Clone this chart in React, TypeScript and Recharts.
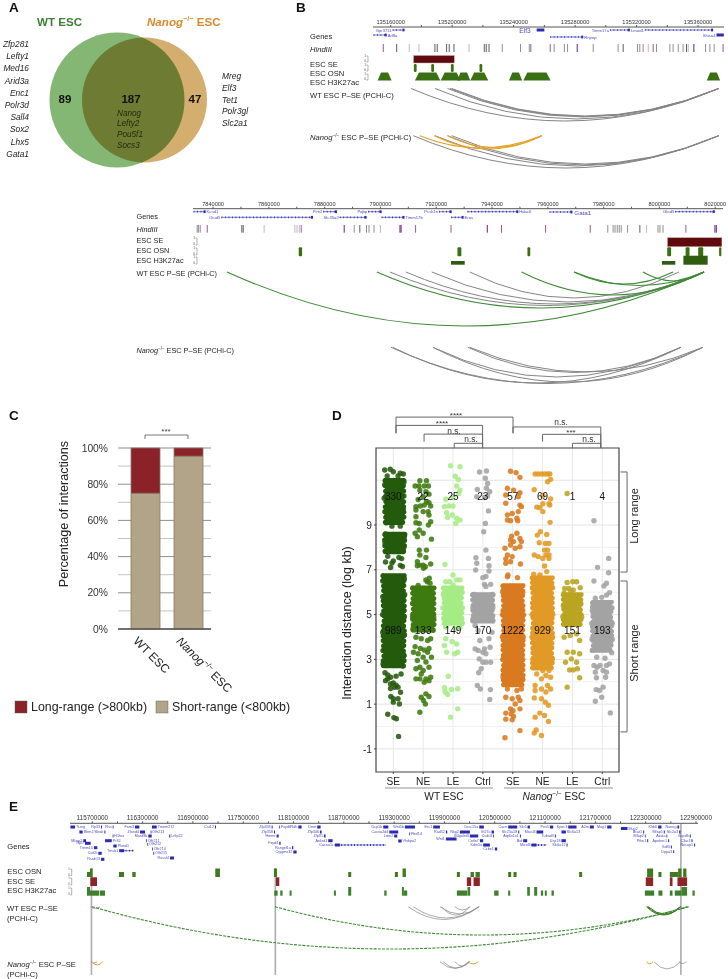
import React from "react";
import {
  Bar,
  BarChart,
  CartesianGrid,
  ReferenceArea,
  ReferenceLine,
  Scatter,
  ScatterChart,
  XAxis,
  YAxis,
} from "recharts";

const FONT = "'Liberation Sans', Arial, sans-serif";
const BLUE = "#2a2ab4";
const GREY_ARC = "#858585";
const GREEN_ARC = "#3f8a35";
const ORANGE_ARC = "#e6a128";

// ---- panel A
const vennCircles = [
  { name: "Nanog", cx: 144.5, cy: 100, r: 62.5, fill: "#d3ae6e" },
  { name: "WT", cx: 117, cy: 100, r: 67.5, fill: "#84b674" },
];
const vennCounts = [
  { x: 65, y: 99, text: "89" },
  { x: 131, y: 99, text: "187" },
  { x: 195, y: 99, text: "47" },
];
const wtOnlyGenes = ["Zfp281", "Lefty1", "Med16", "Arid3a", "Enc1", "Polr3d", "Sall4", "Sox2", "Lhx5", "Gata1"];
const nanogOnlyGenes = ["Mreg", "Elf3", "Tet1", "Polr3gl", "Slc2a1"];
const sharedGenes = ["Nanog", "Lefty2", "Pou5f1", "Socs3"];

// ---- panel B, Elf3 locus (kb)
const elfHind = [
  [135155.2, "p"], [135163.9, "d"], [135172.1, "l"], [135178.4, "l"], [135188.8, "d"], [135190.3, "d"], [135196.4, "d"],
  [135198.1, "d"], [135201.2, "d"], [135211, "l"], [135220.9, "d"], [135222.2, "d"], [135224, "d"], [135232.6, "g"],
  [135244.5, "g"], [135250.2, "g"], [135251.2, "p"], [135263.8, "p"], [135266.4, "g"], [135273, "g"], [135275.1, "g"],
  [135281.4, "P"], [135291.8, "g"], [135308, "g"], [135311.3, "d"], [135320.6, "g"], [135322.1, "g"], [135324.3, "g"],
  [135327.6, "l"], [135330.8, "p"], [135333, "g"], [135341.7, "g"], [135343.8, "g"], [135347.1, "g"], [135350.3, "g"],
  [135352.5, "d"], [135353.6, "l"], [135357.3, "P"], [135364.9, "g"], [135367.7, "g"], [135370.5, "g"], [135376.3, "p"],
];
const elfSE = [[135174.9, 135201.4]];
const elfOSN = [[135175.1, 135176.9], [135186.4, 135188.2], [135199.2, 135201], [135217.8, 135219.6]];
const elfK27 = [
  [135151.5, 135160.6], [135175.8, 135192.3], [135192.5, 135205.5], [135203.3, 135211.8], [135211.8, 135223.5],
  [135237, 135245.6], [135246.3, 135264], [135365.7, 135374.4],
];
const elfGenes = [
  { name: "Gpr3711", from: 135161.3, to: 135169, y: 30 },
  { name: "Arl8a", from: 135148.8, to: 135157.4, y: 35, right: true },
  { name: "Elf3", from: 135255, to: 135260, y: 30, size: 6.6, gap: 6 },
  { name: "Rnpep", from: 135263.8, to: 135285.3, y: 37, right: true },
  { name: "Timm17a", from: 135302.7, to: 135315.6, y: 30 },
  { name: "Lmod1", from: 135325.4, to: 135369.8, y: 30 },
  { name: "Shisa4", from: 135372, to: 135376.8, y: 35 },
];
const elfWtArcs = [
  [135173.2, 135373.5, 121], [135188.8, 135373.5, 119], [135197, 135373.5, 117], [135198.6, 135373.5, 116.5], [135199.7, 135373.5, 116],
];
const elfNanogArcs = [
  [135174.7, 135373.5, 168], [135188.8, 135373.5, 166], [135197, 135373.5, 165], [135199.7, 135373.5, 164],
];
const elfNanogOrangeArcs = [[135179, 135258.2, 148], [135188.4, 135258.2, 149], [135197, 135258.2, 147.5]];

// ---- panel B, Gata1 locus (kb)
const gataHind = [
  [7834.3, "g"], [7834.8, "g"], [7835.4, "g"], [7837.9, "p"], [7850.3, "d"], [7850.8, "d"], [7858.3, "l"], [7869.3, "l"], [7870.1, "l"],
  [7870.9, "l"], [7871.6, "p"], [7887, "P"], [7890.6, "g"], [7892.6, "d"], [7895, "g"], [7895.9, "g"], [7897.7, "g"], [7900, "l"],
  [7907, "P"], [7907.4, "P"], [7912.6, "p"], [7925.3, "p"], [7938.3, "P"], [7943.4, "p"], [7959.2, "p"], [7975.2, "p"], [7981.5, "g"],
  [7983.4, "g"], [7984.1, "g"], [7984.9, "g"], [7985.6, "g"], [7986.3, "g"], [7988.6, "g"], [7993, "d"], [7995.4, "l"], [7999.5, "g"],
  [8000.2, "g"], [8001.3, "g"], [8009.5, "p"], [8019.9, "P"], [8020.4, "P"],
];
const gataSE = [[8002.9, 8022.4]];
const gataOSN = [[7870.7, 7871.9], [7927.6, 7929], [7952.7, 7953.7], [8002.8, 8004.2], [8009.4, 8010.8], [8013.9, 8015.7], [8021.4, 8022.2]];
const gataK27 = [[7925.3, 7930.2], [8000.9, 8005.7], [8008.6, 8017.3, 1]];
const gataGenes = [
  { name: "Kcnd1", from: 7833, to: 7837.3, y: 211.7, right: true },
  { name: "Pim2", from: 7879.5, to: 7884.4, y: 211.7 },
  { name: "Pqbp", from: 7895.6, to: 7900.4, y: 211.7 },
  { name: "Pcsk1n", from: 7921, to: 7925.5, y: 211.7 },
  { name: "Hdac6", from: 7931.2, to: 7949.4, y: 211.7, right: true },
  { name: "Gata1", from: 7960.6, to: 7968.8, y: 212, right: true, size: 6.2, gap: 2 },
  { name: "Glod5", from: 8005.7, to: 8019.8, y: 211.7 },
  { name: "Otud5", from: 7843, to: 7875.8, y: 217.3 },
  { name: "Slc35a2", from: 7885.4, to: 7895, y: 217.3 },
  { name: "Timm17b", from: 7900.4, to: 7908.6, y: 217.3, right: true },
  { name: "Eras", from: 7925.4, to: 7929.8, y: 217.3, right: true },
];
const gataWtGreenArcs = [
  [7845, 8016, 326], [7898.7, 8016, 308], [7950.6, 8016, 295], [7969.4, 8004.9, 284], [7969.4, 8016, 285.5], [7994.1, 8016, 281],
];
const gataWtGreyArcs = [[7903.4, 8016, 305.5], [7909.1, 8016, 304], [7918.4, 8016, 302], [7932, 8007, 298]];
const gataNanogArcs = [
  [7903.8, 8015.6, 383.5], [7904.4, 8007.7, 383], [7918.8, 8015.6, 382], [7918.8, 8007.7, 377], [7931.3, 8007.7, 372.5], [7932, 8015.6, 372],
];

// ---- panel C
const cCategories = ["WT ESC", "Nanog ESC"];
const shortRange = [75, 95.5];
const longRange = [25, 4.5];
const cTicks = [0, 20, 40, 60, 80, 100];
const cMinorLines = [10, 30, 50, 70, 90];
const cLegend = [
  { label: "Long-range (>800kb)", color: "#8c2229", x: 15 },
  { label: "Short-range (<800kb)", color: "#b1a488", x: 156 },
];

// ---- panel D: points that can be told apart, as [jitter, log kb], per group.
// Where the dots merge into a solid column the group has a core band instead.
const wtSePoints = [
  [-0.31, 11.46], [-0.11, 11.49], [0, 11.38], [0.25, 11.31], [0.36, 11.28], [-0.22, 11.19], [0.17, 11.19], [-0.31, 10.8], [0.38, 10.9],
  [-0.33, 10.2], [0.38, 10.3], [-0.3, 9.6], [0.36, 9.7], [-0.25, 9.1], [0.3, 9.2], [-0.05, 8.95], [0.25, 8.95], [-0.28, 8.6], [0.4, 8.5],
  [-0.3, 8.2], [0.38, 8], [-0.2, 7.6], [0.3, 7.5], [-0.28, 7.35], [0, 7.4], [0.2, 7.55], [-0.1, 7.1], [0.25, 7.2], [0.33, 7.15], [-0.05, 7.3],
  [-0.38, 6.5], [0.4, 6.6], [-0.38, 5.8], [0.41, 5.9], [-0.39, 5], [0.4, 4.9], [-0.38, 4.2], [0.4, 4.1], [-0.37, 3.4], [0.38, 3.2],
  [-0.37, 2.8], [0.35, 2.7], [0.28, 2.35], [-0.2, 2.13], [0, 1.95], [0.17, 1.76], [0.26, 1.53], [-0.09, 1.34], [0, 1.24], [0.17, 1.24],
  [0.22, 1.01], [0, 1.09], [-0.2, 0.55], [0.02, 0.4], [0.11, 0.35], [0.19, -0.44], [-0.3, 2.4], [-0.2, 2.3], [-0.1, 2.2], [0.1, 2.25],
  [-0.28, 2.05], [-0.1, 1.9], [0.05, 1.75], [-0.1, 1.7], [0.1, 1.85],
];
const wtNePoints = [
  [-0.12, 10.98], [0.12, 10.98], [-0.29, 10.74], [-0.15, 10.74], [0.04, 10.74], [0.19, 10.74], [-0.12, 10.56], [0.1, 10.49], [0.21, 10.38],
  [0, 10.26], [-0.18, 10.14], [0.12, 10.04], [0.21, 10], [-0.26, 9.82], [-0.1, 9.85], [0.04, 9.89], [0.27, 9.85], [-0.26, 9.67], [0, 9.6],
  [0.18, 9.6], [-0.26, 9.37], [0.21, 9.45], [-0.26, 9.1], [-0.14, 9.07], [0.27, 9.15], [0.19, 9], [-0.14, 8.78], [-0.29, 8.63], [-0.21, 8.48],
  [0, 8.63], [0.3, 8.37], [-0.14, 7.88], [0.12, 7.88], [-0.12, 7.66], [0.1, 7.55], [-0.21, 7.36], [-0.21, 7.18], [-0.12, 7.21], [0, 7.21],
  [0.08, 7.14], [0.27, 7.26], [0.01, 7.07], [-0.18, 6.3], [0.15, 6.47], [0.1, 6.55], [0.22, 6.62], [0.25, 6.4], [-0.33, 6], [0.3, 6],
  [-0.38, 5.5], [0.38, 5.5], [-0.38, 4.9], [0.38, 4.9], [-0.36, 4.4], [0.36, 4.3], [-0.26, 3.99], [-0.07, 3.92], [0.16, 3.84], [0.27, 3.92],
  [-0.29, 3.57], [-0.1, 3.49], [0.04, 3.42], [0.21, 3.49], [-0.18, 3.25], [0.16, 3.32], [-0.35, 3.32], [0, 3.1], [0.3, 3.1], [-0.21, 2.95],
  [0.1, 2.88], [-0.12, 2.65], [-0.26, 2.58], [0, 2.5], [0.21, 2.65], [-0.07, 2.35], [-0.26, 2.13], [-0.12, 2.13], [0.1, 2.13], [0.27, 2.2],
  [0.04, 1.98], [0.21, 2.05], [0.1, 1.46], [-0.07, 1.31], [0.21, 1.34], [0.01, 1.16], [0.08, 1.01], [-0.12, 0.64],
];
const wtLePoints = [
  [-0.09, 11.65], [0.25, 11.6], [0.08, 11.18], [0.19, 11.03], [0.13, 10.74], [0.25, 10.56], [0.21, 10.41], [-0.26, 10.15], [0, 10.26],
  [-0.31, 9.82], [-0.15, 9.85], [0, 9.85], [-0.23, 9.55], [-0.03, 9.45], [-0.2, 9.34], [0.13, 9.3], [0.25, 9.22], [0.1, 9.07], [-0.29, 7.24],
  [0, 6.77], [-0.26, 6.47], [0.13, 6.55], [0.25, 6.55], [-0.12, 6.47], [0, 6.32], [-0.35, 5.9], [0.33, 6], [-0.37, 5.3], [0.34, 5.3],
  [-0.33, 4.8], [0.3, 4.7], [-0.26, 4.44], [0.13, 4.36], [0.25, 4.44], [-0.26, 3.92], [-0.03, 3.8], [-0.31, 3.62], [0.13, 3.69], [-0.23, 3.32],
  [0.06, 3.25], [0.17, 3.32], [-0.17, 2.25], [-0.31, 1.73], [-0.28, 1.54], [-0.06, 1.66], [0.17, 1.69], [-0.19, 1.43], [0.17, 0.79], [-0.09, 0.42],
];
const wtCtrlPoints = [
  [-0.12, 11.37], [0.13, 11.41], [0.09, 11.09], [0.17, 10.86], [-0.2, 10.59], [0.13, 10.64], [0.25, 10.49], [-0.22, 10.26], [0.06, 10.23],
  [0.17, 10.3], [0.2, 9.63], [0.09, 9.07], [0.03, 8.7], [-0.25, 7.54], [0.11, 7.88], [0.2, 7.51], [-0.22, 7.29], [0.22, 7.18], [-0.26, 6.99],
  [0.22, 6.95], [0, 6.65], [0.11, 6.7], [0.06, 6.35], [0.28, 6.35], [0.11, 6.25], [-0.3, 5.9], [0.33, 5.9], [-0.36, 5.3], [0.36, 5.3],
  [-0.36, 4.8], [0.33, 4.8], [-0.28, 4.51], [0.33, 4.21], [-0.17, 4.29], [0.22, 3.92], [-0.11, 3.84], [-0.28, 3.47], [-0.17, 3.4], [0.06, 3.47],
  [0.26, 3.54], [0, 3.32], [0.11, 3.25], [-0.13, 3.02], [0, 2.87], [0.11, 2.87], [0.28, 2.87], [-0.06, 2.58], [-0.15, 2.4], [-0.2, 1.83],
  [-0.09, 1.68], [0.27, 1.65], [0.25, 1.21],
];
const koSePoints = [
  [-0.08, 11.4], [0.12, 11.34], [0.26, 11.13], [-0.19, 10.64], [0.03, 10.56], [0.26, 10.44], [-0.25, 10.34], [0.2, 10.26], [-0.25, 9.97],
  [0.26, 9.89], [0.31, 9.82], [-0.19, 9.45], [-0.02, 9.52], [0.2, 9.6], [-0.19, 9.22], [0.15, 9.3], [-0.08, 9.19], [0.18, 9.19], [-0.04, 8.5],
  [0.15, 8.63], [-0.08, 8.33], [0.26, 8.4], [0.03, 8.26], [0.31, 8.26], [-0.28, 7.96], [-0.08, 8.11], [0.09, 7.96], [0.26, 8.03], [-0.19, 7.66],
  [-0.02, 7.59], [-0.25, 7.49], [-0.08, 7.36], [-0.25, 7.29], [0.28, 7.26], [-0.19, 6.69], [0.17, 6.65], [-0.17, 6.77], [-0.36, 6], [0.36, 6],
  [-0.37, 5], [0.39, 5], [-0.37, 4], [0.38, 4], [-0.36, 3], [0.36, 3], [-0.35, 2.2], [0.33, 2.2], [-0.19, 1.68], [0.15, 1.61], [0.31, 1.68],
  [-0.25, 1.31], [-0.02, 1.24], [0.2, 1.31], [0.26, 1.16], [0.09, 1.01], [-0.08, 0.79], [0.01, 0.71], [0.26, 0.79], [-0.25, 0.6], [-0.06, 0.57],
  [-0.25, 0.33], [0.03, 0.45], [-0.02, 0.3], [-0.28, -0.5], [0.26, -0.18],
];
const koNePoints = [
  [-0.27, 11.28], [-0.16, 11.28], [-0.04, 11.28], [0.07, 11.28], [0.18, 11.28], [0.26, 11.28], [0.29, 11.04], [0.18, 10.93], [-0.3, 10.58],
  [0.01, 10.32], [0.29, 10.17], [0.23, 9.95], [-0.21, 9.8], [0.01, 9.95], [-0.1, 9.77], [0.26, 9.89], [0.01, 9.6], [0.27, 9.12], [-0.08, 8.7],
  [-0.19, 8.55], [0.15, 8.58], [-0.12, 8.21], [0.1, 8.18], [0.23, 8.18], [-0.3, 7.66], [-0.16, 7.59], [0.07, 7.88], [0.18, 7.88], [0.12, 7.66],
  [0.23, 7.66], [0.23, 7.51], [0.01, 7.51], [0.07, 7.17], [0.15, 6.92], [-0.32, 6.8], [-0.1, 6.77], [-0.37, 6.2], [0.36, 6.2], [-0.38, 5],
  [0.37, 5], [-0.38, 4], [0.36, 4], [-0.35, 3], [0.35, 3], [0.01, 2.5], [0.23, 2.5], [-0.21, 2.35], [0.12, 2.28], [0.29, 2.2], [-0.04, 2.13],
  [-0.27, 1.83], [0.18, 1.83], [0.29, 1.68], [-0.04, 1.68], [-0.27, 1.61], [0.12, 1.54], [-0.3, 1.28], [-0.04, 1.24], [0.1, 1.09], [0.21, 0.95],
  [-0.27, 0.42], [-0.1, 0.6], [0.07, 0.49], [0.21, 0.23], [-0.23, -0.15], [-0.3, -0.29], [-0.04, -0.4],
];
const koLePoints = [
  [-0.19, 10.41], [-0.19, 6.43], [0.01, 6.47], [0.15, 6.47], [0.28, 6.2], [-0.28, 6.17], [-0.13, 6.17], [0.03, 6.1], [-0.06, 6.02], [-0.3, 5.95],
  [-0.13, 5.8], [-0.33, 5.4], [0.3, 5.5], [-0.35, 4.9], [0.33, 4.9], [-0.3, 3.99], [-0.08, 4.07], [0.15, 4.14], [0.26, 3.84], [-0.19, 3.32],
  [0.03, 3.32], [0.26, 3.25], [-0.25, 2.87], [-0.04, 3.02], [0.15, 2.87], [-0.1, 2.53], [0.03, 2.53], [0.18, 2.58], [0.26, 2.18], [-0.19, 1.76],
];
const koCtrlPoints = [
  [-0.3, 9.19], [-0.17, 7.11], [0.23, 7.51], [0.23, 6.87], [-0.3, 6.5], [0.15, 6.4], [0.06, 6.28], [0.26, 5.98], [-0.25, 5.73], [-0.02, 5.77],
  [0.15, 5.87], [-0.36, 5.2], [0.35, 5.3], [-0.38, 4.6], [0.36, 4.6], [-0.37, 3.9], [0.36, 3.9], [-0.36, 3.4], [0.34, 3.3], [-0.2, 3.1], [0.1, 3.05],
  [-0.3, 2.73], [-0.19, 2.65], [-0.08, 2.73], [0.15, 2.73], [0.26, 2.8], [-0.25, 2.43], [0.03, 2.5], [0.15, 2.43], [-0.21, 2.18], [0.12, 2.2],
  [-0.22, 1.65], [-0.1, 1.61], [0.03, 1.76], [-0.02, 1.31], [-0.25, 1.13], [0.29, 0.61],
];
const groupLabels = ["SE", "NE", "LE", "Ctrl", "SE", "NE", "LE", "Ctrl"];
const groupColors = ["#245a0c", "#3d7a10", "#a6ec85", "#a3a3a3", "#d97a20", "#e19a25", "#b9a520", "#a3a3a3"];
const groupPoints = [wtSePoints, wtNePoints, wtLePoints, wtCtrlPoints, koSePoints, koNePoints, koLePoints, koCtrlPoints];
const longCounts = [330, 22, 25, 23, 57, 69, 1, 4];
const shortCounts = [989, 133, 149, 170, 1222, 929, 151, 193];
// group, low, high, left jitter, right jitter
const coreBands = [
  [1, 9.0, 11.1, -0.3, 0.38], [1, 7.7, 8.7, -0.3, 0.4], [1, 2.6, 6.85, -0.38, 0.41],
  [2, 4.2, 6.3, -0.38, 0.39], [3, 4.5, 6.3, -0.35, 0.34], [4, 4.6, 6, -0.37, 0.37],
  [5, 1.75, 6.4, -0.37, 0.39], [6, 2.5, 6.75, -0.38, 0.37], [7, 4.45, 6, -0.35, 0.34], [8, 3.3, 5.65, -0.38, 0.36],
];
const dTicks = [-1, 1, 3, 5, 7, 9];
const dMinorLines = [0, 2, 4, 6, 8, 10];
const dMajorLines = [-1, 1, 3, 5, 7, 9, 11];
// from, to, level, left drop, right drop
const dBrackets = [
  [1.09, 5.01, 13.82, 13.1, 13.1],
  [1.09, 3.99, 13.45, 13.1, 12.44],
  [2.03, 3.99, 13.06, 12.72, 12.44],
  [3.04, 3.99, 12.65, 12.44, 12.44],
  [5.01, 7.95, 13.38, 13.1, 12.44],
  [6.0, 7.95, 13.05, 12.72, 12.44],
  [7.0, 7.95, 12.65, 12.44, 12.44],
];
const rangeBrackets = [[11.37, 6.9], [6.5, -0.24]];

// ---- panel E (kb)
const eOSN = [
  [115636.7, 115672.5], [115672.5, 115704.3, 1], [116018.2, 116077.8], [116177.2, 116217], [117166.7, 117222.3, 1], [117866.1, 117902, 1],
  [118752.3, 118788], [119309, 119345], [119400, 119440, 1], [120048, 120084], [120211, 120251], [120271, 120322], [120660, 120696],
  [120724, 120760], [121507, 121542], [122317, 122389, 1], [122452, 122488], [122588, 122687], [122687, 122727, 1], [122747, 122786, 1],
];
const eSE = [
  [115676.5, 115756], [117890, 117930], [120167, 120219], [120247, 120322], [122301, 122389], [122588, 122620], [122679, 122794],
];
const eK27 = [
  [115636.7, 115672.5, 1], [115672.5, 115783.8], [115791.7, 115851.3], [117870, 117910], [117941.6, 117969.5], [118052.9, 118076.7],
  [118581.4, 118605.3], [118752.3, 118788, 1], [119182, 119210], [119392.5, 119416, 1], [119416, 119456], [120048, 120171], [120175, 120207, 1],
  [120493, 120545], [120660, 120684], [120887, 120919, 1], [120970, 121006, 1], [121050, 121077], [121097, 121121], [121177, 121205],
  [122290, 122401], [122452, 122500], [122588, 122620], [122647, 122727], [122727, 122794, 1], [122858, 122885],
];
const eGenes = [
  { name: "Tsnrg", from: 115439, to: 115494, y: 827, right: true }, { name: "Rp33", from: 115804, to: 115816, y: 827 },
  { name: "Rho", from: 115943, to: 115951, y: 827 }, { name: "Fam3", from: 116209, to: 116261, y: 827 },
  { name: "Tmem272", from: 116412, to: 116468, y: 827, right: true }, { name: "Cst12", from: 117163, to: 117175, y: 827 },
  { name: "Zfp358", from: 117839, to: 117851, y: 827 }, { name: "Fxyd6", from: 117930, to: 117938, y: 827, right: true },
  { name: "Rdh", from: 118157, to: 118196, y: 827 }, { name: "Dmrt", from: 118383, to: 118423, y: 827 },
  { name: "Rbm2", from: 115546, to: 115585, y: 832, right: true }, { name: "Slbsb", from: 115844, to: 115856, y: 832 },
  { name: "Zfand4", from: 116269, to: 116329, y: 832 }, { name: "Olfr213", from: 116396, to: 116404, y: 832, right: true },
  { name: "Zfp358", from: 117867, to: 117879, y: 832 }, { name: "Zfp346", from: 118415, to: 118435, y: 832 },
  { name: "H1foo", from: 115943, to: 115951, y: 836, right: true }, { name: "Mard9b", from: 116368, to: 116408, y: 836 },
  { name: "Lrfip22", from: 116618, to: 116630, y: 836, right: true }, { name: "Hmmr", from: 117898, to: 117922, y: 836 },
  { name: "Zfp91", from: 118463, to: 118482, y: 836 }, { name: "Mlxrp2", from: 115593, to: 115625, y: 840.7 },
  { name: "Pr32", from: 115852, to: 115932, y: 840.7, right: true }, { name: "Olfr211", from: 116340, to: 116348, y: 840.7, right: true },
  { name: "Ankrd1", from: 118514, to: 118566, y: 840.7 }, { name: "Rpl7", from: 115613, to: 115681, y: 843.3 },
  { name: "Olfr212", from: 116356, to: 116364, y: 844.3, right: true }, { name: "Fxyd4", from: 117930, to: 117946, y: 843.3 },
  { name: "Cacna1c", from: 118593, to: 119202, y: 845 }, { name: "Plxnd1", from: 115951, to: 115991, y: 846, right: true },
  { name: "Timm10", from: 115720, to: 115760, y: 847.7 }, { name: "Olfr214", from: 116412, to: 116420, y: 849, right: true },
  { name: "Rangef1a", from: 118081, to: 118097, y: 847.7 }, { name: "Tmsb1", from: 116022, to: 116197, y: 850.7 },
  { name: "Cstf2t", from: 115772, to: 115812, y: 853.3 }, { name: "Olfr215", from: 116428, to: 116436, y: 853.3, right: true },
  { name: "Crygmx32", from: 118097, to: 118137, y: 852 }, { name: "Rsab13", from: 115804, to: 115844, y: 859.3 },
  { name: "Rassf4", from: 116627, to: 116674, y: 858 },
  { name: "Dcp1b", from: 119170, to: 119230, y: 827 }, { name: "Wnt5b", from: 119428, to: 119548, y: 827 },
  { name: "Erc1", from: 119766, to: 119846, y: 827 }, { name: "Cocc15a", from: 120315, to: 120370, y: 827 },
  { name: "Cacn", from: 120660, to: 120768, y: 827 }, { name: "Slc6", from: 120891, to: 120919, y: 827 },
  { name: "Pex5", from: 121157, to: 121197, y: 827 }, { name: "Kpec3", from: 121376, to: 121475, y: 827 },
  { name: "A2m", from: 121634, to: 121682, y: 827 }, { name: "Mug1", from: 121841, to: 121892, y: 827 },
  { name: "Mug2", from: 122004, to: 122083, y: 828.5, right: true }, { name: "Klrb6", from: 122449, to: 122488, y: 827 },
  { name: "Nanog", from: 122679, to: 122699, y: 827 }, { name: "Cacna2d4", from: 119242, to: 119349, y: 832 },
  { name: "Rad52", from: 119917, to: 119933, y: 832 }, { name: "Nkg2", from: 120084, to: 120203, y: 832 },
  { name: "Ift27a", from: 120462, to: 120490, y: 832 }, { name: "Slc25a18", from: 120780, to: 120792, y: 832 },
  { name: "Mical3", from: 120998, to: 121078, y: 832 }, { name: "Slc6a13", from: 121296, to: 121348, y: 832, right: true },
  { name: "Bcat1", from: 122270, to: 122282, y: 832 }, { name: "Mfap5", from: 122516, to: 122528, y: 832 },
  { name: "Slc2a3", from: 122699, to: 122715, y: 832 }, { name: "Lrtm2", from: 119301, to: 119337, y: 836 },
  { name: "Fbxl14", from: 119480, to: 119488, y: 834, right: true }, { name: "B4galnt3", from: 120203, to: 120303, y: 836 },
  { name: "Ccdc8", from: 120482, to: 120490, y: 836 }, { name: "Atp6v1e1", from: 120800, to: 120811, y: 836 },
  { name: "Tubad3", from: 121217, to: 121229, y: 836 }, { name: "Mfap2", from: 122290, to: 122298, y: 836 },
  { name: "Aicda", from: 122548, to: 122556, y: 836 }, { name: "Gapdh", from: 122826, to: 122838, y: 836 },
  { name: "Vhdipo2", from: 119349, to: 119389, y: 841, right: true }, { name: "Wnt1", from: 119917, to: 120044, y: 839 },
  { name: "Cntln7", from: 120323, to: 120362, y: 840.7 }, { name: "Bid", from: 120839, to: 120887, y: 840.7 },
  { name: "Usp18", from: 121296, to: 121348, y: 840.7 }, { name: "Ptkn1", from: 122318, to: 122330, y: 840.7 },
  { name: "Apobec1", from: 122568, to: 122580, y: 840.7 }, { name: "C3ar1", from: 122846, to: 122858, y: 840.7 },
  { name: "Kdm5a", from: 120362, to: 120442, y: 845 }, { name: "Mical3", from: 120939, to: 121117, y: 845 },
  { name: "Slc6a12", from: 121356, to: 121368, y: 845 }, { name: "Necap1", from: 122878, to: 122890, y: 845 },
  { name: "Ccbe1", from: 120501, to: 120529, y: 849 }, { name: "Gdf3", from: 122600, to: 122612, y: 847 },
  { name: "Dppa3", from: 122628, to: 122640, y: 851.7 },
];
const eWtDashedArcs = [[115696, 122803, 949], [117879, 122815, 935]];
const eWtGreyArcs = [
  [115680, 115792, 908.5], [119468, 120315, 919.5], [119528, 120315, 918], [119846, 120315, 914], [119865, 120203, 915], [120024, 120203, 910], [122714, 122786, 908.5],
];
const eWtGreenArcs = [[122309, 122714, 915], [122320, 122720, 914.5], [122330, 122714, 914]];
const eNanogGreyArcs = [
  [115680, 115760, 963], [119846, 120203, 968.5], [119885, 120190, 968], [120024, 120203, 966], [122397, 122714, 969], [122699, 122786, 963.5],
];
const eNanogOrangeArcs = [[115692, 115824, 965], [120183, 120302, 964], [122309, 122389, 963.7]];
const eGuideLow = [[115680, 115700], [117873, 117893]];
const eGuideHigh = [[122710, 122730]];

// ---- helpers
const hindColors = { p: "#9d559d", P: "#6a1c80", d: "#5e5e5e", g: "#8f8f8f", l: "#c4b4c4" };
const scallop = [0, 1.2, 0.4, 1.7, 0.7, 0.1, 1.4, 0.5, 1.9, 0.9, 0.2, 1.1];
const range = (a, b, step) => {
  const out = [];
  for (let v = a; v <= b + 1e-6; v += step) out.push(Math.round(v * 10) / 10);
  return out;
};

function Text({ x, y, s = 7.6, a = "start", b = false, i = false, c = "#222", r = 0, children }) {
  return (
    <text
      x={x}
      y={y}
      fontSize={s}
      textAnchor={a}
      fontWeight={b ? "bold" : "normal"}
      fontStyle={i ? "italic" : "normal"}
      fill={c}
      dominantBaseline="central"
      transform={r ? `rotate(${r} ${x} ${y})` : undefined}
    >
      {children}
    </text>
  );
}

function KoLabel({ tail, s }) {
  return (
    <>
      <tspan fontStyle="italic">Nanog</tspan>
      <tspan fontSize={s * 0.62} dy={-s * 0.3}>−/−</tspan>
      <tspan dy={s * 0.3}> {tail}</tspan>
    </>
  );
}

function arcShape(stroke, sw = 0.9, dash) {
  return ({ x, y, width: w, height: h }) => (
    <path
      d={`M${x} ${y}Q${x + w / 2} ${y + 2 * h} ${x + w} ${y}`}
      fill="none"
      stroke={stroke}
      strokeWidth={sw}
      strokeDasharray={dash}
    />
  );
}

function trapShape(fill) {
  return ({ x, y, width: w, height: h }) => {
    const inset = Math.min(w / 4, 4);
    return <path d={`M${x} ${y + h}L${x + inset} ${y}L${x + w - inset} ${y}L${x + w} ${y + h}Z`} fill={fill} />;
  };
}

// the column edge is bumpy like the dots it stands for
function coreShape(fill) {
  return ({ x, y, width: w, height: h }) => {
    const step = 5;
    const n = Math.max(1, Math.round(h / step));
    const dy = h / n;
    let d = `M${x + 2} ${y}`;
    for (let k = 0; k < n; k++) {
      const off = scallop[k % scallop.length];
      d += `A2.7 2.7 0 0 0 ${x + off} ${y + (k + 1) * dy}`;
    }
    d += `H${x + w - 2}`;
    for (let k = n - 1; k >= 0; k--) {
      const off = scallop[(k + 5) % scallop.length];
      d += `A2.7 2.7 0 0 0 ${x + w - off} ${y + k * dy}`;
    }
    return <path d={`${d}Z`} fill={fill} />;
  };
}

function geneShape(g, dense) {
  return ({ x, y, width: w, height: h }) => {
    const mid = y + h / 2;
    const size = g.size || (dense ? 3.7 : 4.2);
    const gap = g.gap || 1;
    const label = g.right ? { x: x + w + gap, a: "start" } : { x: x - gap, a: "end" };
    return (
      <g>
        {w > 9 && !dense ? (
          <>
            <line x1={x} x2={x + w} y1={mid} y2={mid} stroke={BLUE} strokeWidth={0.6} />
            <line x1={x} x2={x + w} y1={mid} y2={mid} stroke={BLUE} strokeWidth={1.7} strokeDasharray="0.9 2.6" />
            <rect x={x + w - 2} y={mid - 1.4} width={2} height={2.8} fill={BLUE} />
          </>
        ) : w > 12 ? (
          <>
            <line x1={x} x2={x + w} y1={mid} y2={mid} stroke={BLUE} strokeWidth={0.6} />
            <line x1={x} x2={x + w} y1={mid} y2={mid} stroke={BLUE} strokeWidth={1.8} strokeDasharray="0.9 2.3" />
            <rect x={x} y={mid - 1.5} width={Math.min(5, w / 3)} height={3} fill={BLUE} />
          </>
        ) : (
          <rect x={x} y={mid - 1.5} width={Math.max(w, 0.8)} height={3} fill={BLUE} />
        )}
        <text x={label.x} y={mid} fontSize={size} fill={BLUE} textAnchor={label.a} dominantBaseline="central" opacity={0.85}>
          {g.name}
        </text>
      </g>
    );
  };
}

function Browser({ left, top, plotWidth, height, axisY, domain, ticks, format, tickFont, hindRow, tracks, genes, arcs, dense }) {
  const axisHeight = axisY - top;
  return (
    <div style={{ position: "absolute", left, top }}>
      <ScatterChart width={plotWidth + 30} height={height} margin={{ top: 0, right: 30, bottom: 0, left: 0 }}>
        <XAxis
          type="number"
          dataKey="x"
          orientation="top"
          height={axisHeight}
          domain={domain}
          ticks={ticks}
          allowDataOverflow
          interval={0}
          tickSize={2}
          tickMargin={1}
          tickFormatter={format}
          tick={{ fontSize: tickFont, fill: "#333", fontFamily: FONT }}
          stroke="#555"
        />
        <YAxis type="number" dataKey="y" hide reversed allowDataOverflow domain={[axisY, top + height]} />
        {tracks.map((t, k) =>
          t.items.map((it, n) => (
            <ReferenceArea
              key={`t${k}-${n}`}
              x1={it[0]}
              x2={it[1]}
              y1={it[2] ? t.tallTop : t.top}
              y2={t.bottom}
              ifOverflow="visible"
              shape={
                t.trap
                  ? trapShape(t.fill)
                  : ({ x, y, width, height: h }) => (
                      <rect x={x} y={y} width={width} height={h} rx={t.rx || 0} fill={t.fill} stroke={t.stroke} strokeWidth={0.5} />
                    )
              }
            />
          )),
        )}
        {genes.map((g, n) => (
          <ReferenceArea key={`g${n}`} x1={g.from} x2={g.to} y1={g.y - 1} y2={g.y + 1} ifOverflow="visible" shape={geneShape(g, dense)} />
        ))}
        {arcs.map((set, k) =>
          set.rows.map((a, n) => (
            <ReferenceArea
              key={`a${k}-${n}`}
              x1={a[0]}
              x2={a[1]}
              y1={set.top}
              y2={a[2]}
              ifOverflow="visible"
              shape={arcShape(set.color, set.width || 1, set.dash)}
            />
          )),
        )}
        {hindRow && (
          <Scatter
            data={hindRow.marks.map(([x, tone]) => ({ x, tone, y: (hindRow.top + hindRow.bottom) / 2 }))}
            isAnimationActive={false}
            shape={(p) => (
              <line
                x1={p.cx}
                x2={p.cx}
                y1={p.cy - (hindRow.bottom - hindRow.top) / 2}
                y2={p.cy + (hindRow.bottom - hindRow.top) / 2}
                stroke={hindColors[p.tone]}
                strokeWidth={1}
              />
            )}
          />
        )}
      </ScatterChart>
    </div>
  );
}

// ---- panels
function VennPanel() {
  return (
    <div style={{ position: "absolute", left: 0, top: 0 }}>
      <ScatterChart width={220} height={190} margin={{ top: 0, right: 0, bottom: 0, left: 0 }}>
        <XAxis type="number" dataKey="x" hide domain={[0, 220]} />
        <YAxis type="number" dataKey="y" hide reversed domain={[0, 190]} />
        {vennCircles.map((c) => (
          <ReferenceArea
            key={c.name}
            x1={c.cx - c.r}
            x2={c.cx + c.r}
            y1={c.cy - c.r}
            y2={c.cy + c.r}
            ifOverflow="visible"
            shape={({ x, y, width, height }) => (
              <ellipse
                cx={x + width / 2}
                cy={y + height / 2}
                rx={width / 2}
                ry={height / 2}
                fill={c.fill}
                style={{ mixBlendMode: "multiply" }}
              />
            )}
          />
        ))}
        <Scatter
          data={vennCounts}
          isAnimationActive={false}
          shape={(p) => (
            <text x={p.cx} y={p.cy} fontSize={11.5} fontWeight="bold" fill="#111" textAnchor="middle" dominantBaseline="central" fontFamily={FONT}>
              {p.text}
            </text>
          )}
        />
      </ScatterChart>
    </div>
  );
}

function StackedPanel() {
  const data = cCategories.map((name, k) => ({ name, short: shortRange[k], long: longRange[k] }));
  return (
    <div style={{ position: "absolute", left: 0, top: 425 }}>
      <BarChart width={270} height={275} data={data} margin={{ top: 23, right: 59, bottom: 0, left: 0 }} barSize={29}>
        <CartesianGrid horizontal vertical={false} horizontalValues={cMinorLines} stroke="#c4c4c4" />
        <CartesianGrid horizontal vertical={false} horizontalValues={cTicks} stroke="#8e8e8e" />
        <XAxis
          dataKey="name"
          height={71}
          padding={{ left: 6, right: 1 }}
          interval={0}
          stroke="#555"
          strokeWidth={1.4}
          tickLine={false}
          tick={({ x, y, payload }) => (
            <text
              x={x - 10}
              y={y + 2}
              fontSize={11.8}
              fill="#222"
              fontFamily={FONT}
              dominantBaseline="central"
              transform={`rotate(45 ${x - 10} ${y + 2})`}
            >
              {payload.value === "WT ESC" ? "WT ESC" : <KoLabel tail="ESC" s={11.8} />}
            </text>
          )}
        />
        <YAxis
          width={118}
          domain={[0, 100]}
          ticks={cTicks}
          tickFormatter={(v) => `${v}%`}
          axisLine={false}
          tickLine={false}
          tickSize={0}
          tickMargin={10}
          tick={{ fontSize: 10.3, fill: "#333", fontFamily: FONT }}
        />
        <Bar dataKey="short" stackId="a" fill="#b1a488" stroke="#857c68" strokeWidth={0.8} isAnimationActive={false} />
        <Bar dataKey="long" stackId="a" fill="#8c2229" stroke="#857c68" strokeWidth={0.8} isAnimationActive={false} />
      </BarChart>
    </div>
  );
}

function SwarmPanel() {
  const counts = [
    ...longCounts.map((n, k) => ({ x: k + 1, y: 10.26, text: String(n) })),
    ...shortCounts.map((n, k) => ({ x: k + 1, y: 4.3, text: String(n) })),
  ];
  return (
    <div style={{ position: "absolute", left: 330, top: 405 }}>
      <ScatterChart width={320} height={400} margin={{ top: 43, right: 31, bottom: 0, left: 0 }}>
        <CartesianGrid horizontal={false} vertical verticalValues={[1, 2, 3, 4, 5, 6, 7, 8]} stroke="#e8e8e8" />
        <CartesianGrid horizontal vertical={false} horizontalValues={dMinorLines} stroke="#f1f1f1" />
        <CartesianGrid horizontal vertical={false} horizontalValues={dMajorLines} stroke="#e4e4e4" />
        <XAxis
          type="number"
          dataKey="x"
          height={33}
          domain={[0.42, 8.56]}
          ticks={[1, 2, 3, 4, 5, 6, 7, 8]}
          interval={0}
          allowDataOverflow
          axisLine={false}
          tickSize={2}
          tickMargin={4}
          tickFormatter={(v) => groupLabels[v - 1]}
          tick={{ fontSize: 10.2, fill: "#222", fontFamily: FONT }}
          stroke="#444"
        />
        <YAxis
          type="number"
          dataKey="y"
          width={46}
          domain={[-2.03, 12.44]}
          ticks={dTicks}
          interval={0}
          allowDataOverflow
          axisLine={false}
          tickSize={2}
          tickMargin={2}
          tick={{ fontSize: 10.2, fill: "#222", fontFamily: FONT }}
          stroke="#444"
        />
        {coreBands.map(([g, low, high, l, r], n) => (
          <ReferenceArea
            key={`band${n}`}
            x1={g + l}
            x2={g + r}
            y1={low}
            y2={high}
            ifOverflow="visible"
            shape={coreShape(groupColors[g - 1])}
          />
        ))}
        {groupPoints.map((pts, k) => (
          <Scatter
            key={k}
            data={pts.map(([j, v]) => ({ x: k + 1 + j * 0.93, y: v }))}
            isAnimationActive={false}
            shape={(p) => <circle cx={p.cx} cy={p.cy} r={2.7} fill={groupColors[k]} fillOpacity={0.88} />}
          />
        ))}
        <Scatter
          data={counts}
          isAnimationActive={false}
          shape={(p) => (
            <text x={p.cx} y={p.cy} fontSize={10} fill="#111" textAnchor="middle" dominantBaseline="central" fontFamily={FONT}>
              {p.text}
            </text>
          )}
        />
        <ReferenceArea x1={0.42} x2={8.56} y1={-2.03} y2={12.44} ifOverflow="visible" fill="none" stroke="#444" strokeWidth={1.2} />
        {dBrackets.flatMap(([from, to, level, dl, dr], n) => [
          <ReferenceLine key={`b${n}a`} ifOverflow="visible" stroke="#666" segment={[{ x: from, y: level }, { x: to, y: level }]} />,
          <ReferenceLine key={`b${n}b`} ifOverflow="visible" stroke="#666" segment={[{ x: from, y: level }, { x: from, y: dl }]} />,
          <ReferenceLine key={`b${n}c`} ifOverflow="visible" stroke="#666" segment={[{ x: to, y: level }, { x: to, y: dr }]} />,
        ])}
        {rangeBrackets.flatMap(([hi, lo], n) => [
          <ReferenceLine key={`r${n}a`} ifOverflow="visible" stroke="#666" segment={[{ x: 8.61, y: hi }, { x: 8.83, y: hi }]} />,
          <ReferenceLine key={`r${n}b`} ifOverflow="visible" stroke="#666" segment={[{ x: 8.83, y: hi }, { x: 8.83, y: lo }]} />,
          <ReferenceLine key={`r${n}c`} ifOverflow="visible" stroke="#666" segment={[{ x: 8.61, y: lo }, { x: 8.83, y: lo }]} />,
        ])}
      </ScatterChart>
    </div>
  );
}

function ScaleMark({ x, rows, s = 3 }) {
  return (
    <g stroke="#444" strokeWidth={0.4} fill="none">
      {rows.map(([a, b], k) => (
        <g key={k}>
          <path d={`M${x - 1.5} ${a}H${x}V${b}H${x - 1.5}`} />
          <text x={x - 2} y={a + 1} fontSize={s} stroke="none" fill="#444" textAnchor="end">1</text>
          <text x={x - 2} y={b} fontSize={s} stroke="none" fill="#444" textAnchor="end">0</text>
        </g>
      ))}
    </g>
  );
}

function Overlay() {
  return (
    <svg width={728} height={979} style={{ position: "absolute", left: 0, top: 0, pointerEvents: "none", fontFamily: FONT }}>
      <Text x={9} y={7} s={13.5} b c="#111">A</Text>
      <Text x={296} y={7} s={13.5} b c="#111">B</Text>
      <Text x={9} y={415} s={13.5} b c="#111">C</Text>
      <Text x={332} y={415} s={13.5} b c="#111">D</Text>
      <Text x={9} y={806} s={13.5} b c="#111">E</Text>

      <Text x={37} y={21} s={11.6} b c="#3f8036">WT ESC</Text>
      <Text x={147} y={21} s={11.6} b c="#d98a2d"><KoLabel tail="ESC" s={11.6} /></Text>
      {wtOnlyGenes.map((g, k) => (
        <Text key={g} x={29} y={44 + k * 12.2} s={8.4} a="end" i>{g}</Text>
      ))}
      {nanogOnlyGenes.map((g, k) => (
        <Text key={g} x={222} y={76 + k * 11.8} s={8.4} i>{g}</Text>
      ))}
      {sharedGenes.map((g, k) => (
        <Text key={g} x={117} y={113 + k * 10.7} s={8.2} i c="#1c2a0c">{g}</Text>
      ))}

      <Text x={310} y={36}>Genes</Text>
      <Text x={310} y={49} i>HindIII</Text>
      <Text x={310} y={64}>ESC SE</Text>
      <Text x={310} y={73}>ESC OSN</Text>
      <Text x={310} y={82}>ESC H3K27ac</Text>
      <Text x={310} y={95}>WT ESC P–SE (PCHi-C)</Text>
      <Text x={310} y={137}><KoLabel tail="ESC P–SE (PCHi-C)" s={7.6} /></Text>
      <ScaleMark x={368} rows={[[56, 62], [65, 71], [74, 80]]} />

      <Text x={136.5} y={216.7} s={7.3}>Genes</Text>
      <Text x={136.5} y={229} s={7.3} i>HindIII</Text>
      <Text x={136.5} y={240} s={7.3}>ESC SE</Text>
      <Text x={136.5} y={250.7} s={7.3}>ESC OSN</Text>
      <Text x={136.5} y={260} s={7.3}>ESC H3K27ac</Text>
      <Text x={136.5} y={273.3} s={7.3}>WT ESC P–SE (PCHi-C)</Text>
      <Text x={136.5} y={350.3} s={7.3}><KoLabel tail="ESC P–SE (PCHi-C)" s={7.3} /></Text>
      <ScaleMark x={197} rows={[[238, 245], [248, 255], [257, 264]]} />

      <Text x={64} y={514} s={12.6} a="middle" r={-90}>Percentage of interactions</Text>
      <path d="M145 439V435H188V439" fill="none" stroke="#555" strokeWidth={0.8} />
      <Text x={166} y={431.5} s={8} a="middle" c="#444">***</Text>
      {cLegend.map((item) => (
        <g key={item.label}>
          <rect x={item.x} y={701} width={12} height={12} fill={item.color} stroke="#555" strokeWidth={0.4} />
          <Text x={item.x + 16} y={707} s={12.4}>{item.label}</Text>
        </g>
      ))}

      <Text x={347} y={623} s={12.5} a="middle" r={-90}>Interaction distance (log kb)</Text>
      <Text x={456} y={415} s={8} a="middle" c="#333">****</Text>
      <Text x={442} y={423.5} s={8} a="middle" c="#333">****</Text>
      <Text x={454} y={431} s={8.4} a="middle" c="#333">n.s.</Text>
      <Text x={471} y={439} s={8.4} a="middle" c="#333">n.s.</Text>
      <Text x={561} y={421.5} s={8.4} a="middle" c="#333">n.s.</Text>
      <Text x={571} y={432} s={8} a="middle" c="#333">***</Text>
      <Text x={589} y={439} s={8.4} a="middle" c="#333">n.s.</Text>
      <Text x={634} y={516} s={11} a="middle" r={-90}>Long range</Text>
      <Text x={634} y={653} s={11} a="middle" r={-90}>Short range</Text>
      <path d="M385 788H493M504 788H613" stroke="#666" strokeWidth={0.7} />
      <Text x={444} y={796} s={10.2} a="middle">WT ESC</Text>
      <Text x={554} y={796} s={10.2} a="middle"><KoLabel tail="ESC" s={10.2} /></Text>

      <Text x={7.3} y={846}>Genes</Text>
      <Text x={7.3} y={871}>ESC OSN</Text>
      <Text x={7.3} y={881}>ESC SE</Text>
      <Text x={7.3} y={890.5}>ESC H3K27ac</Text>
      <Text x={7} y={908.5}>WT ESC P–SE</Text>
      <Text x={7} y={918}>(PCHi-C)</Text>
      <Text x={7.3} y={964}><KoLabel tail="ESC P–SE" s={7.6} /></Text>
      <Text x={7} y={974}>(PCHi-C)</Text>
      <ScaleMark x={71.7} rows={[[869, 875.5], [878, 885], [888, 895]]} s={2.6} />
    </svg>
  );
}

export default function App() {
  return (
    <div style={{ position: "absolute", left: 0, top: 0, width: 728, height: 979, background: "#fff", fontFamily: FONT, overflow: "hidden" }}>
      <VennPanel />
      <Browser
        left={373}
        top={14}
        plotWidth={351}
        height={164}
        axisY={27}
        domain={[135148.5, 135376.9]}
        ticks={range(135160, 135360, 20)}
        format={(v) => ((v - 135160) % 40 === 0 ? String(v * 1000) : "")}
        tickFont={5.7}
        hindRow={{ marks: elfHind, top: 44, bottom: 52 }}
        tracks={[
          { items: elfSE, top: 55.5, bottom: 63, fill: "#5e0a0f", stroke: "#c9a7a7" },
          { items: elfOSN, top: 64, bottom: 72, fill: "#3b7012", rx: 1.2 },
          { items: elfK27, top: 72.5, bottom: 80.5, fill: "#3b7012", trap: true },
        ]}
        genes={elfGenes}
        arcs={[
          { rows: elfWtArcs, top: 88.5, color: GREY_ARC },
          { rows: elfNanogArcs, top: 135.7, color: GREY_ARC },
          { rows: elfNanogOrangeArcs, top: 135.7, color: ORANGE_ARC, width: 1.2 },
        ]}
      />
      <Browser
        left={193}
        top={198}
        plotWidth={530}
        height={192}
        axisY={208.7}
        domain={[7832.8, 8022.8]}
        ticks={range(7840, 8020, 10)}
        format={(v) => (v % 20 === 0 ? String(v * 1000) : "")}
        tickFont={5.6}
        hindRow={{ marks: gataHind, top: 225, bottom: 232.7 }}
        tracks={[
          { items: gataSE, top: 237.7, bottom: 246.7, fill: "#5e0a0f", stroke: "#c9a7a7" },
          { items: gataOSN, top: 247.3, bottom: 256.3, fill: "#3b7012", rx: 1 },
          { items: gataK27, top: 261, tallTop: 255.7, bottom: 264.7, fill: "#2f5c0e" },
        ]}
        genes={gataGenes}
        arcs={[
          { rows: gataWtGreyArcs, top: 272, color: GREY_ARC },
          { rows: gataWtGreenArcs, top: 272, color: GREEN_ARC, width: 1.1 },
          { rows: gataNanogArcs, top: 347.3, color: GREY_ARC },
        ]}
      />
      <StackedPanel />
      <SwarmPanel />
      <Browser
        left={70}
        top={812}
        plotWidth={628}
        height={167}
        axisY={823.3}
        domain={[115434, 122924]}
        ticks={range(115700, 122900, 300)}
        format={(v) => ((v - 115700) % 600 === 0 ? String(v * 1000) : "")}
        tickFont={6.4}
        tracks={[
          { items: eGuideLow, top: 868, bottom: 975, fill: "#b0b0b0" },
          { items: eGuideHigh, top: 824, bottom: 975, fill: "#b0b0b0" },
          { items: eOSN, top: 872, tallTop: 868.5, bottom: 877, fill: "#3f7a1e" },
          { items: eSE, top: 877.3, bottom: 886, fill: "#8e2328" },
          { items: eK27, top: 890.5, tallTop: 887, bottom: 895.7, fill: "#3f7f2e" },
        ]}
        genes={eGenes}
        dense
        arcs={[
          { rows: eWtGreyArcs, top: 906.7, color: GREY_ARC, width: 0.7 },
          { rows: eWtGreenArcs, top: 906.7, color: "#3a7a22", width: 1 },
          { rows: eWtDashedArcs, top: 906.7, color: "#3f8a35", width: 1.1, dash: "3 1.2" },
          { rows: eNanogGreyArcs, top: 961.7, color: GREY_ARC, width: 0.7 },
          { rows: eNanogOrangeArcs, top: 961.7, color: ORANGE_ARC, width: 1 },
        ]}
      />
      <Overlay />
    </div>
  );
}
